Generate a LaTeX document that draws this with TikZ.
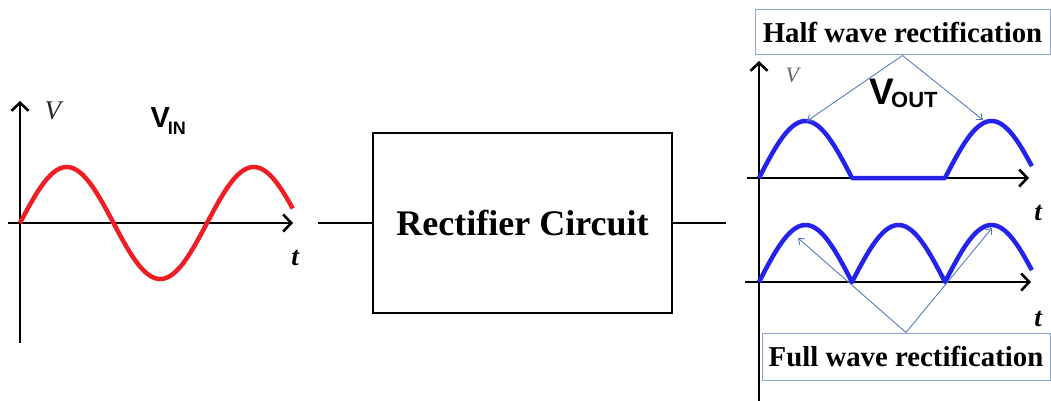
\documentclass[tikz,border=0pt]{standalone}
\usepackage{fontspec}
\setmainfont{Liberation Serif}
\setsansfont{Liberation Sans}
\usetikzlibrary{arrows.meta}

\definecolor{sigred}{RGB}{238,30,36}
\definecolor{sigblue}{RGB}{35,35,235}
\definecolor{calloutblue}{RGB}{85,125,185}
\definecolor{frameblue}{RGB}{135,165,210}

\newcommand{\fsz}[1]{\fontsize{#1}{#1}\selectfont}

\begin{document}
\begin{tikzpicture}[x=1pt,y=-1pt,
  axis/.style={line width=2.6pt,-{Straight Barb[length=8pt,width=17pt]}},
  wave/.style={line width=4.5pt,line join=round},
  lead/.style={line width=2.8pt},
  callout/.style={calloutblue,line width=0.9pt,-{Straight Barb[length=5pt,width=8pt]}},
  tag/.style={draw=frameblue,line width=1pt,fill=white,inner sep=0pt,
    font=\bfseries\fsz{28.8}},
  var/.style={font=\bfseries\itshape\fsz{27}}]

 \useasboundingbox (0,0) rectangle (1051,401);

 % input sine
 \draw[axis] (20,343) -- (20,101);
 \draw[axis] (8,223) -- (293,223);
 \draw[wave,sigred] plot[domain=0:525,samples=176] ({20+\x/360*187},{223-56*sin(\x)});
 \node[anchor=base west,black!85,font=\itshape\fsz{27}] (vl) at (41,120) {V};
 \node[anchor=base west,font=\sffamily\bfseries\fsz{29}] (vin) at (147,128)
   {V\kern-2pt\raisebox{-7pt}{\fsz{18}IN}};
 \node[var,anchor=base] (tl) at (295,265) {t};

 % rectifier block
 \node[draw,line width=2.8pt,minimum width=299,minimum height=180,inner sep=0pt,
   font=\bfseries\fsz{36}] (box) at (522.5,223) {Rectifier Circuit};
 \coordinate (inlead) at (318,223);
 \coordinate (outlead) at (726,223);
 \draw[lead] (inlead) -- (box);
 \draw[lead] (box) -- (outlead);

 % output axes
 \draw[line width=2.6pt] (759,401) -- (759,282);
 \draw[axis] (759,282) -- (759,61);
 \draw[axis] (747,178) -- (1029,178);
 \draw[axis] (745,282) -- (1031,282);

 % half wave
 \draw[wave,sigblue] plot[domain=0:180,samples=61] ({759+\x/360*186},{178-57*sin(\x)})
   -- plot[domain=360:528,samples=57] ({759+\x/360*186},{178-57*sin(\x)});
 % full wave
 \draw[wave,sigblue] plot[domain=0:528,samples=133] ({759+\x/360*186},{282-57*abs(sin(\x))});

 \node[anchor=base west,black!60,font=\itshape\fsz{22}] (vr) at (782,83) {V};
 \node[anchor=base west,font=\sffamily\bfseries\fsz{37}] (vout) at (866,105)
   {V\kern-3pt\raisebox{-3pt}{\fsz{22}OUT}};
 \node[var,anchor=base] (tr1) at (1038,220) {t};
 \node[var,anchor=base] (tr2) at (1038,326) {t};

 % callouts
 \node[tag,minimum width=295,minimum height=45] (half) at (902.5,32.5) {Half wave rectification};
 \node[tag,minimum width=288,minimum height=47] (full) at (906,356.5) {Full wave rectification};
 \coordinate (hpk1) at (807,121);
 \coordinate (hpk2) at (983,120);
 \coordinate (fpk1) at (798,238);
 \coordinate (fpk2) at (992,228);
 \draw[callout] (half.south) -- (hpk1);
 \draw[callout] (half.south) -- (hpk2);
 \draw[callout] (full.north) -- (fpk1);
 \draw[callout] (full.north) -- (fpk2);
\end{tikzpicture}
\end{document}
